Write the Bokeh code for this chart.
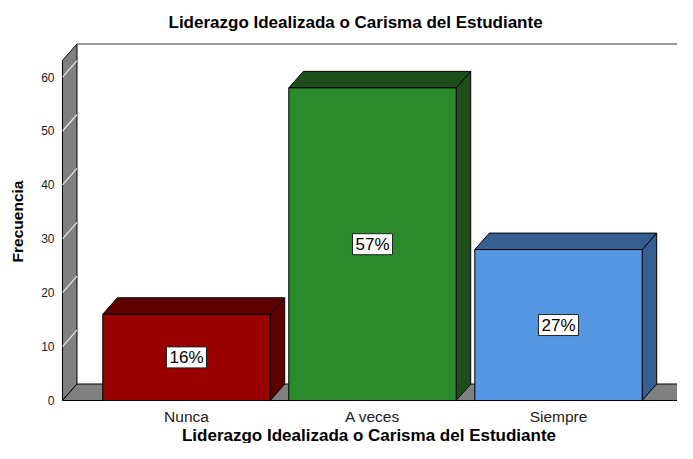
from bokeh.plotting import figure
from bokeh.models import Range1d, FixedTicker, ColumnDataSource, Title
from bokeh.embed import file_html
from bokeh.resources import INLINE

# ---- data ----
categories = ["Nunca", "A veces", "Siempre"]
counts = [16, 58, 28]
pct_labels = ["16%", "57%", "27%"]
front_colors = ["#990000", "#2b8a2b", "#5597e2"]
dark_colors = ["#5e0000", "#1c4f19", "#365e90"]
y_ticks = [0, 10, 20, 30, 40, 50, 60]

title_text = "Liderazgo Idealizada o Carisma del Estudiante"
x_title = "Liderazgo Idealizada o Carisma del Estudiante"
y_title = "Frecuencia"

# ---- 3D geometry (data units) ----
bar_w = 0.9
dx = 0.078      # depth shift in x
dy = 3.06       # depth shift in y
x0 = 0.3333     # wall front position
x_floor_end = 3.672
wall_top = 63.08
xs_cat = [i + 1 for i in range(len(categories))]

W, H = 677, 443
p = figure(width=W, height=H, output_backend="svg", toolbar_location=None,
           x_range=Range1d(0.3226, 3.6398), y_range=Range1d(-0.371, 66.79),
           min_border_left=60, min_border_right=0, min_border_top=40, min_border_bottom=41)
p.outline_line_color = None
p.xgrid.visible = False
p.ygrid.visible = False
p.background_fill_color = "white"
p.border_fill_color = "white"

# wall
p.patch([x0, x0, x0 + dx, x0 + dx], [0, wall_top, wall_top + dy, dy],
        fill_color="#808080", line_color="black", line_width=1)
# floor
p.patch([x0, x_floor_end, x_floor_end + dx, x0 + dx], [0, 0, dy, dy],
        fill_color="#808080", line_color="black", line_width=1)
# wall tick lines
tl = [t for t in y_ticks if t > 0]
p.segment(x0=[x0] * len(tl), y0=tl, x1=[x0 + dx] * len(tl), y1=[t + dy for t in tl],
          line_color="#e8e8e8", line_width=1.2)
# back plane top line
p.segment(x0=[x0 + dx], y0=[wall_top + dy], x1=[5.0], y1=[wall_top + dy],
          line_color="#7a7a7a", line_width=1.5)

# bars
front_xs, front_ys, top_xs, top_ys, side_xs, side_ys = [], [], [], [], [], []
for xc, v in zip(xs_cat, counts):
    l, r = xc - bar_w / 2, xc + bar_w / 2
    front_xs.append([l, r, r, l]); front_ys.append([0, 0, v, v])
    top_xs.append([l, r, r + dx, l + dx]); top_ys.append([v, v, v + dy, v + dy])
    side_xs.append([r, r + dx, r + dx, r]); side_ys.append([0, dy, v + dy, v])
p.patches(side_xs, side_ys, fill_color=dark_colors, line_color="black", line_width=1)
p.patches(top_xs, top_ys, fill_color=dark_colors, line_color="black", line_width=1)
p.patches(front_xs, front_ys, fill_color=front_colors, line_color="black", line_width=1)

# percentage labels
src = ColumnDataSource(dict(x=xs_cat, y=[c / 2 for c in counts], t=pct_labels))
p.rect(x="x", y="y", width=40, height=21, width_units="screen", height_units="screen",
       source=src, fill_color="white", line_color="#222222", line_width=1)
p.text(x="x", y="y", text="t", source=src, text_align="center", text_baseline="middle",
       text_font_size="17px", text_color="black", text_font={"value": "Liberation Sans"})

# axes
for ax in (p.xaxis[0], p.yaxis[0]):
    ax.axis_line_color = None
    ax.major_tick_line_color = None
    ax.minor_tick_line_color = None
    ax.major_tick_out = 0
    ax.major_tick_in = 0
    ax.minor_tick_out = 0
    ax.minor_tick_in = 0

p.xaxis.ticker = FixedTicker(ticks=xs_cat)
p.xaxis.major_label_overrides = {xc: c for xc, c in zip(xs_cat, categories)}
p.xaxis.major_label_standoff = 5
p.xaxis.major_label_text_font = "Liberation Sans"
p.xaxis.major_label_text_font_size = "15.5px"
p.xaxis.major_label_text_color = "#212121"

# x axis title as a below title
xt = Title(text=x_title, align="center", text_font="Liberation Sans", text_font_size="17px",
           text_font_style="bold", text_color="black", standoff=-8)
p.add_layout(xt, "below")

p.yaxis.ticker = FixedTicker(ticks=y_ticks)
p.yaxis.major_label_standoff = 6
p.yaxis.major_label_text_font = "Liberation Sans"
p.yaxis.major_label_text_font_size = "12px"
p.yaxis.major_label_text_color = "#212121"
p.yaxis.axis_label = y_title
p.yaxis.axis_label_text_font = "Liberation Sans"
p.yaxis.axis_label_text_font_size = "15.5px"
p.yaxis.axis_label_text_font_style = "bold"
p.yaxis.axis_label_text_color = "black"
p.yaxis.axis_label_standoff = 12

p.title.text = title_text
p.title.text_font = "Liberation Sans"
p.title.text_font_size = "17px"
p.title.text_font_style = "bold"
p.title.text_color = "black"
p.title.align = "left"
p.title.offset = 108
p.title.standoff = 17

open("out.html", "w").write(file_html(p, INLINE))
